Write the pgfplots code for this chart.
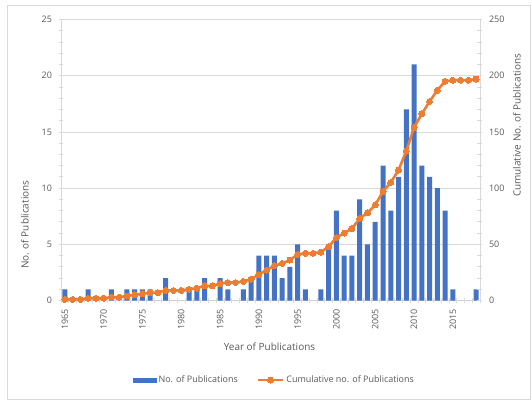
\documentclass[border=0pt]{standalone}
\usepackage{pgfplots}
\pgfplotsset{compat=1.18}
\usepackage{pgfplotstable}
\usepackage{fontspec}
\setmainfont{Open Sans}
\definecolor{barblue}{HTML}{4472C4}
\definecolor{lineorange}{HTML}{ED7D31}
\definecolor{txtgray}{HTML}{595959}
\definecolor{gridgray}{HTML}{D9D9D9}

\pgfplotstableread{
year n cum
1965 1 1
1966 0 1
1967 0 1
1968 1 2
1969 0 2
1970 0 2
1971 1 3
1972 0 3
1973 1 4
1974 1 5
1975 1 6
1976 1 7
1977 0 7
1978 2 9
1979 0 9
1980 0 9
1981 1 10
1982 1 11
1983 2 13
1984 0 13
1985 2 15
1986 1 16
1987 0 16
1988 1 17
1989 2 19
1990 4 23
1991 4 27
1992 4 31
1993 2 33
1994 3 36
1995 5 41
1996 1 42
1997 0 42
1998 1 43
1999 5 48
2000 8 56
2001 4 60
2002 4 64
2003 9 73
2004 5 78
2005 7 85
2006 12 97
2007 8 105
2008 11 116
2009 17 133
2010 21 154
2011 12 166
2012 11 177
2013 10 187
2014 8 195
2015 1 196
2016 0 196
2017 0 196
2018 1 197
}\datatable

\pgfplotsset{
  common/.style={
    scale only axis, width=419bp, height=281bp,
    xmin=1964.5, xmax=2018.5,
    axis line style={gridgray, line width=0.75bp},
    tick style={gridgray, line width=0.75bp},
    major tick length=5bp, minor tick length=5bp,
    tick align=center,
    tick label style={font=\fontsize{9}{10}\selectfont, text=txtgray},
    label style={font=\fontsize{10}{12}\selectfont, text=txtgray},
    /pgf/number format/assume math mode=true,
    /pgf/number format/1000 sep={},
  },
  barlegend/.style={legend image code/.code={\fill[barblue] (0bp,-2.2bp) rectangle (22.7bp,2.2bp);}},
  linelegend/.style={legend image code/.code={\draw[##1, mark repeat=2, mark phase=2] plot coordinates {(0bp,0bp) (12.5bp,0bp) (25bp,0bp)};}},
}

\begin{document}
\begin{tikzpicture}
\path[use as bounding box] (-61bp,-100.5bp) rectangle (471bp,300.5bp);
\draw[gridgray, line width=0.75bp] (-54bp,-98.5bp) rectangle (469bp,295.5bp);
\begin{axis}[common,
  ymin=0, ymax=25,
  axis x line*=bottom, axis y line*=left,
  ytick={0,5,...,25}, minor ytick={1,...,24},
  ymajorgrids, major grid style={gridgray, line width=0.75bp},
  xtick={1965,1970,...,2015},
  minor xtick={1964.5,1965.5,...,2018.5},
  major x tick style={draw=none},
  xticklabel style={yshift=-6bp, rotate=90, anchor=east, inner sep=0pt},
  yticklabel style={xshift=-3bp},
  xlabel={Year of Publications},
  xlabel style={at={(rel axis cs:0.4976,0)}, anchor=center, yshift=-46.5bp},
  ylabel={No. of Publications},
  ylabel style={at={([xshift=-36bp]rel axis cs:0,0.27)}, anchor=center},
]
\addplot[ybar, bar width=5bp, fill=barblue, draw=none] table[x=year, y=n] {\datatable};
\end{axis}
\begin{axis}[common,
  ymin=0, ymax=250,
  axis x line=none, axis y line*=right,
  ytick={0,50,...,250}, minor ytick={10,20,...,240},
  yticklabel style={xshift=3bp},
  ylabel={Cumulative No. of Publications},
  ylabel style={at={([xshift=37bp]rel axis cs:1,0.623)}, anchor=center, rotate=0},
  legend columns=2,
  legend style={at={(rel axis cs:0.51,-0.283)}, anchor=center, draw=none, fill=none,
    font=\fontsize{9}{10}\selectfont, text=txtgray, inner sep=0pt,
    /tikz/every even column/.append style={column sep=17bp}},
  legend cell align=left,
]
\addlegendimage{barlegend}
\addlegendentry{No. of Publications}
\addplot[lineorange, line width=2.6bp, mark=*, mark size=3bp,
  mark options={fill=lineorange, draw=lineorange, line width=0bp}, linelegend]
  table[x=year, y=cum] {\datatable};
\addlegendentry{Cumulative no. of Publications}
\end{axis}
\end{tikzpicture}
\end{document}
